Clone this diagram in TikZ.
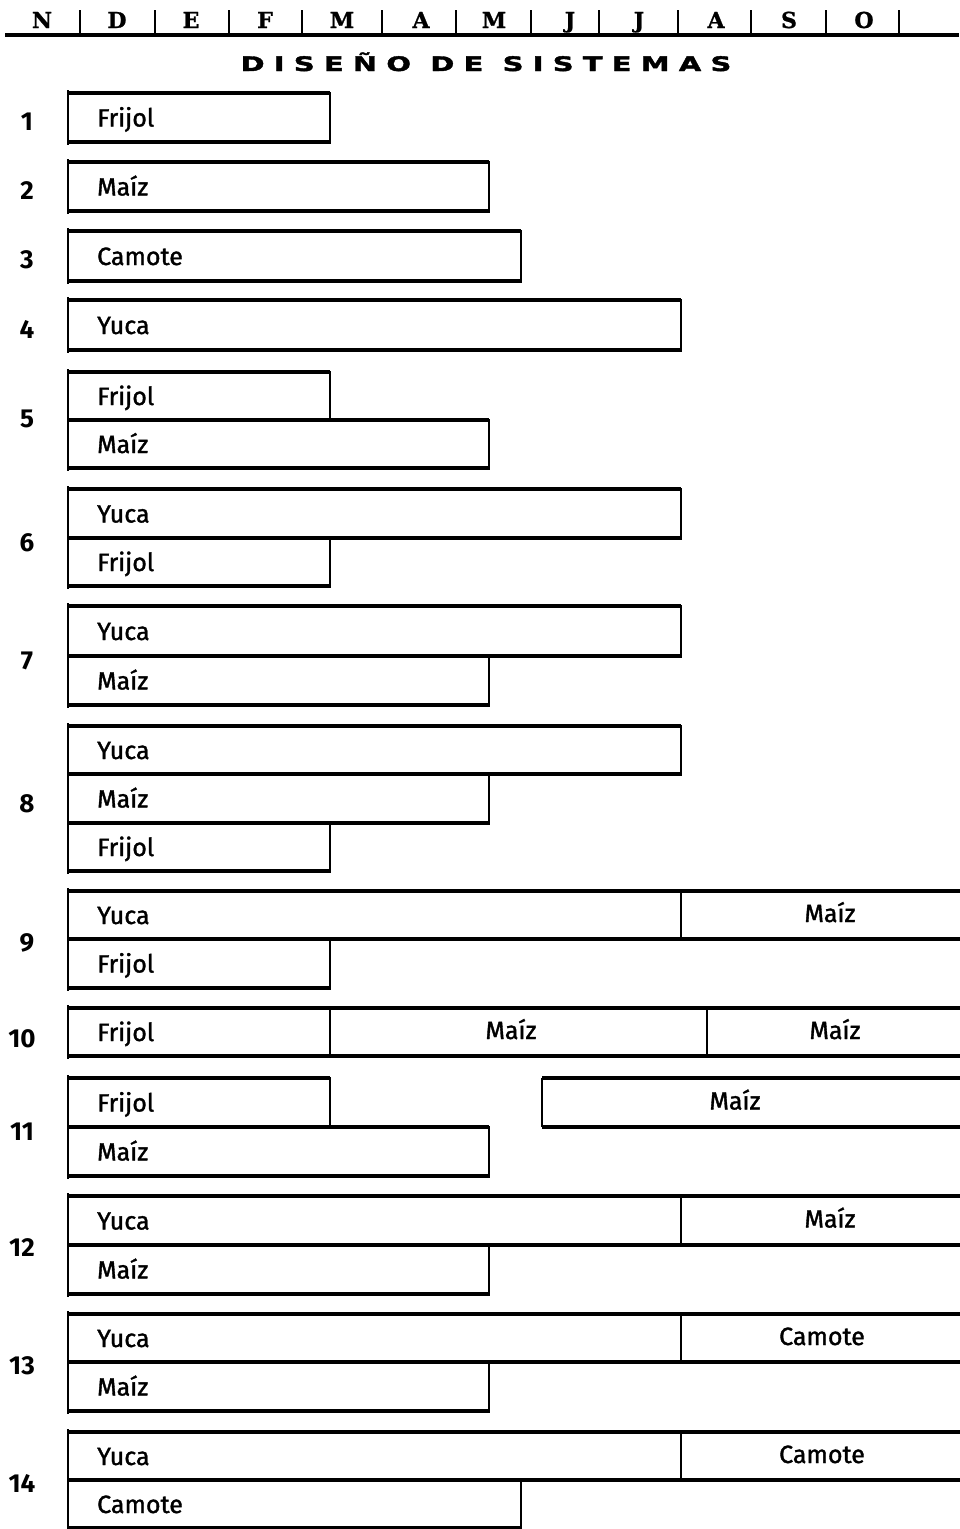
\documentclass[tikz,border=0pt]{standalone}
\usepackage{fontspec}
\setmainfont{Fira Sans}
\newfontfamily\cropfont{Fira Sans}[UprightFeatures={FakeBold=1.4}]
\newfontfamily\numfont{Fira Sans}
\newfontfamily\monthfont{DejaVu Serif}[BoldFeatures={FakeBold=1}]
\newfontfamily\titlefont{DejaVu Sans}[LetterSpace=46,FakeStretch=1.45,BoldFeatures={FakeBold=2}]
\begin{document}
\begin{tikzpicture}[x=1pt,y=-1pt,
  hline/.style={line width=3.2pt},
  vline/.style={line width=2.4pt},
  croplabel/.style={anchor=base west,inner sep=0pt,font=\fontsize{25}{25}\cropfont},
  rightlabel/.style={anchor=base,inner sep=0pt,font=\fontsize{25}{25}\cropfont},
  rownum/.style={anchor=base,inner sep=0pt,font=\fontsize{26}{26}\numfont\bfseries},
  monthlbl/.style={anchor=base,inner sep=0pt,font=\fontsize{22}{22}\monthfont\bfseries},
  sepline/.style={line width=2.4pt}]
\useasboundingbox (0,0) rectangle (959,1529);
% header
\foreach \m/\x [count=\i] in {N/42,D/117,E/191,F/265,M/342,A/421,M/494,J/570,J/639,A/716,S/789,O/864}
  \node[monthlbl] (m\i) at (\x,28) {\m};
\draw[line width=3.4pt] (5,35) -- (959,35);
\foreach \x in {80,155,229,302,382,456,531,599,678,751,826,899}
  \draw[sepline] (\x,10) -- (\x,34);
\node[anchor=base,inner sep=0pt,font=\fontsize{20}{20}\titlefont\bfseries] (title) at (486,71) {DISEÑO DE SISTEMAS};
\newcommand{\cropbar}[5]{% x1,x2,y1,y2,label(left)
  \draw[hline] (#1,#3) -- (#2,#3);
  \draw[hline] (#1,#4) -- (#2,#4);
  \draw[vline] (#2,#3-1) -- (#2,#4+2);
  \node[croplabel] at (97,{(#3+#4)/2+9}) {#5};}
\newcommand{\openbar}[6]{% x1,x2,y1,y2,label center x,label
  \draw[hline] (#1,#3) -- (#2,#3);
  \draw[hline] (#1,#4) -- (#2,#4);
  \draw[vline] (#1,#3) -- (#1,#4);
  \node[rightlabel] at (#5,{(#3+#4)/2+7}) {#6};}
\newcommand{\leftedge}[2]{\draw[vline] (68,#1-3) -- (68,#2+3);}
\newcommand{\rownum}[3]{\node[rownum] (r#1) at (#2,#3+10) {#1};}
% rows
\rownum{1}{27}{120}\leftedge{93}{142}\cropbar{68}{330}{93}{142}{Frijol}
\rownum{2}{27}{189}\leftedge{162}{211}\cropbar{68}{489}{162}{211}{Maíz}
\rownum{3}{27}{258}\leftedge{231}{281}\cropbar{68}{521}{231}{281}{Camote}
\rownum{4}{27}{328}\leftedge{300}{350}\cropbar{68}{681}{300}{350}{Yuca}
\rownum{5}{27}{417}\leftedge{372}{468}\cropbar{68}{330}{372}{420}{Frijol}\cropbar{68}{489}{420}{468}{Maíz}
\rownum{6}{27}{541}\leftedge{489}{586}\cropbar{68}{681}{489}{538}{Yuca}\cropbar{68}{330}{538}{586}{Frijol}
\rownum{7}{27}{659}\leftedge{606}{705}\cropbar{68}{681}{606}{656}{Yuca}\cropbar{68}{489}{656}{705}{Maíz}
\rownum{8}{27}{802}\leftedge{726}{871}\cropbar{68}{681}{726}{774}{Yuca}\cropbar{68}{489}{774}{823}{Maíz}\cropbar{68}{330}{823}{871}{Frijol}
\rownum{9}{27}{941}\leftedge{891}{988}\cropbar{68}{681}{891}{939}{Yuca}\openbar{681}{962}{891}{939}{830}{Maíz}\cropbar{68}{330}{939}{988}{Frijol}
\rownum{10}{22}{1037}\leftedge{1008}{1056}\cropbar{68}{330}{1008}{1056}{Frijol}\openbar{330}{707}{1008}{1056}{511}{Maíz}\openbar{707}{962}{1008}{1056}{835}{Maíz}
\rownum{11}{22}{1130}\leftedge{1078}{1176}\cropbar{68}{330}{1078}{1127}{Frijol}\cropbar{68}{489}{1127}{1176}{Maíz}\openbar{542}{962}{1078}{1127}{735}{Maíz}
\rownum{12}{22}{1246}\leftedge{1196}{1294}\cropbar{68}{681}{1196}{1245}{Yuca}\openbar{681}{962}{1196}{1245}{830}{Maíz}\cropbar{68}{489}{1245}{1294}{Maíz}
\rownum{13}{22}{1364}\leftedge{1314}{1411}\cropbar{68}{681}{1314}{1362}{Yuca}\openbar{681}{962}{1314}{1362}{822}{Camote}\cropbar{68}{489}{1362}{1411}{Maíz}
\rownum{14}{22}{1482}\leftedge{1432}{1528}\cropbar{68}{681}{1432}{1480}{Yuca}\openbar{681}{962}{1432}{1480}{822}{Camote}\cropbar{68}{521}{1480}{1528}{Camote}
\end{tikzpicture}
\end{document}
